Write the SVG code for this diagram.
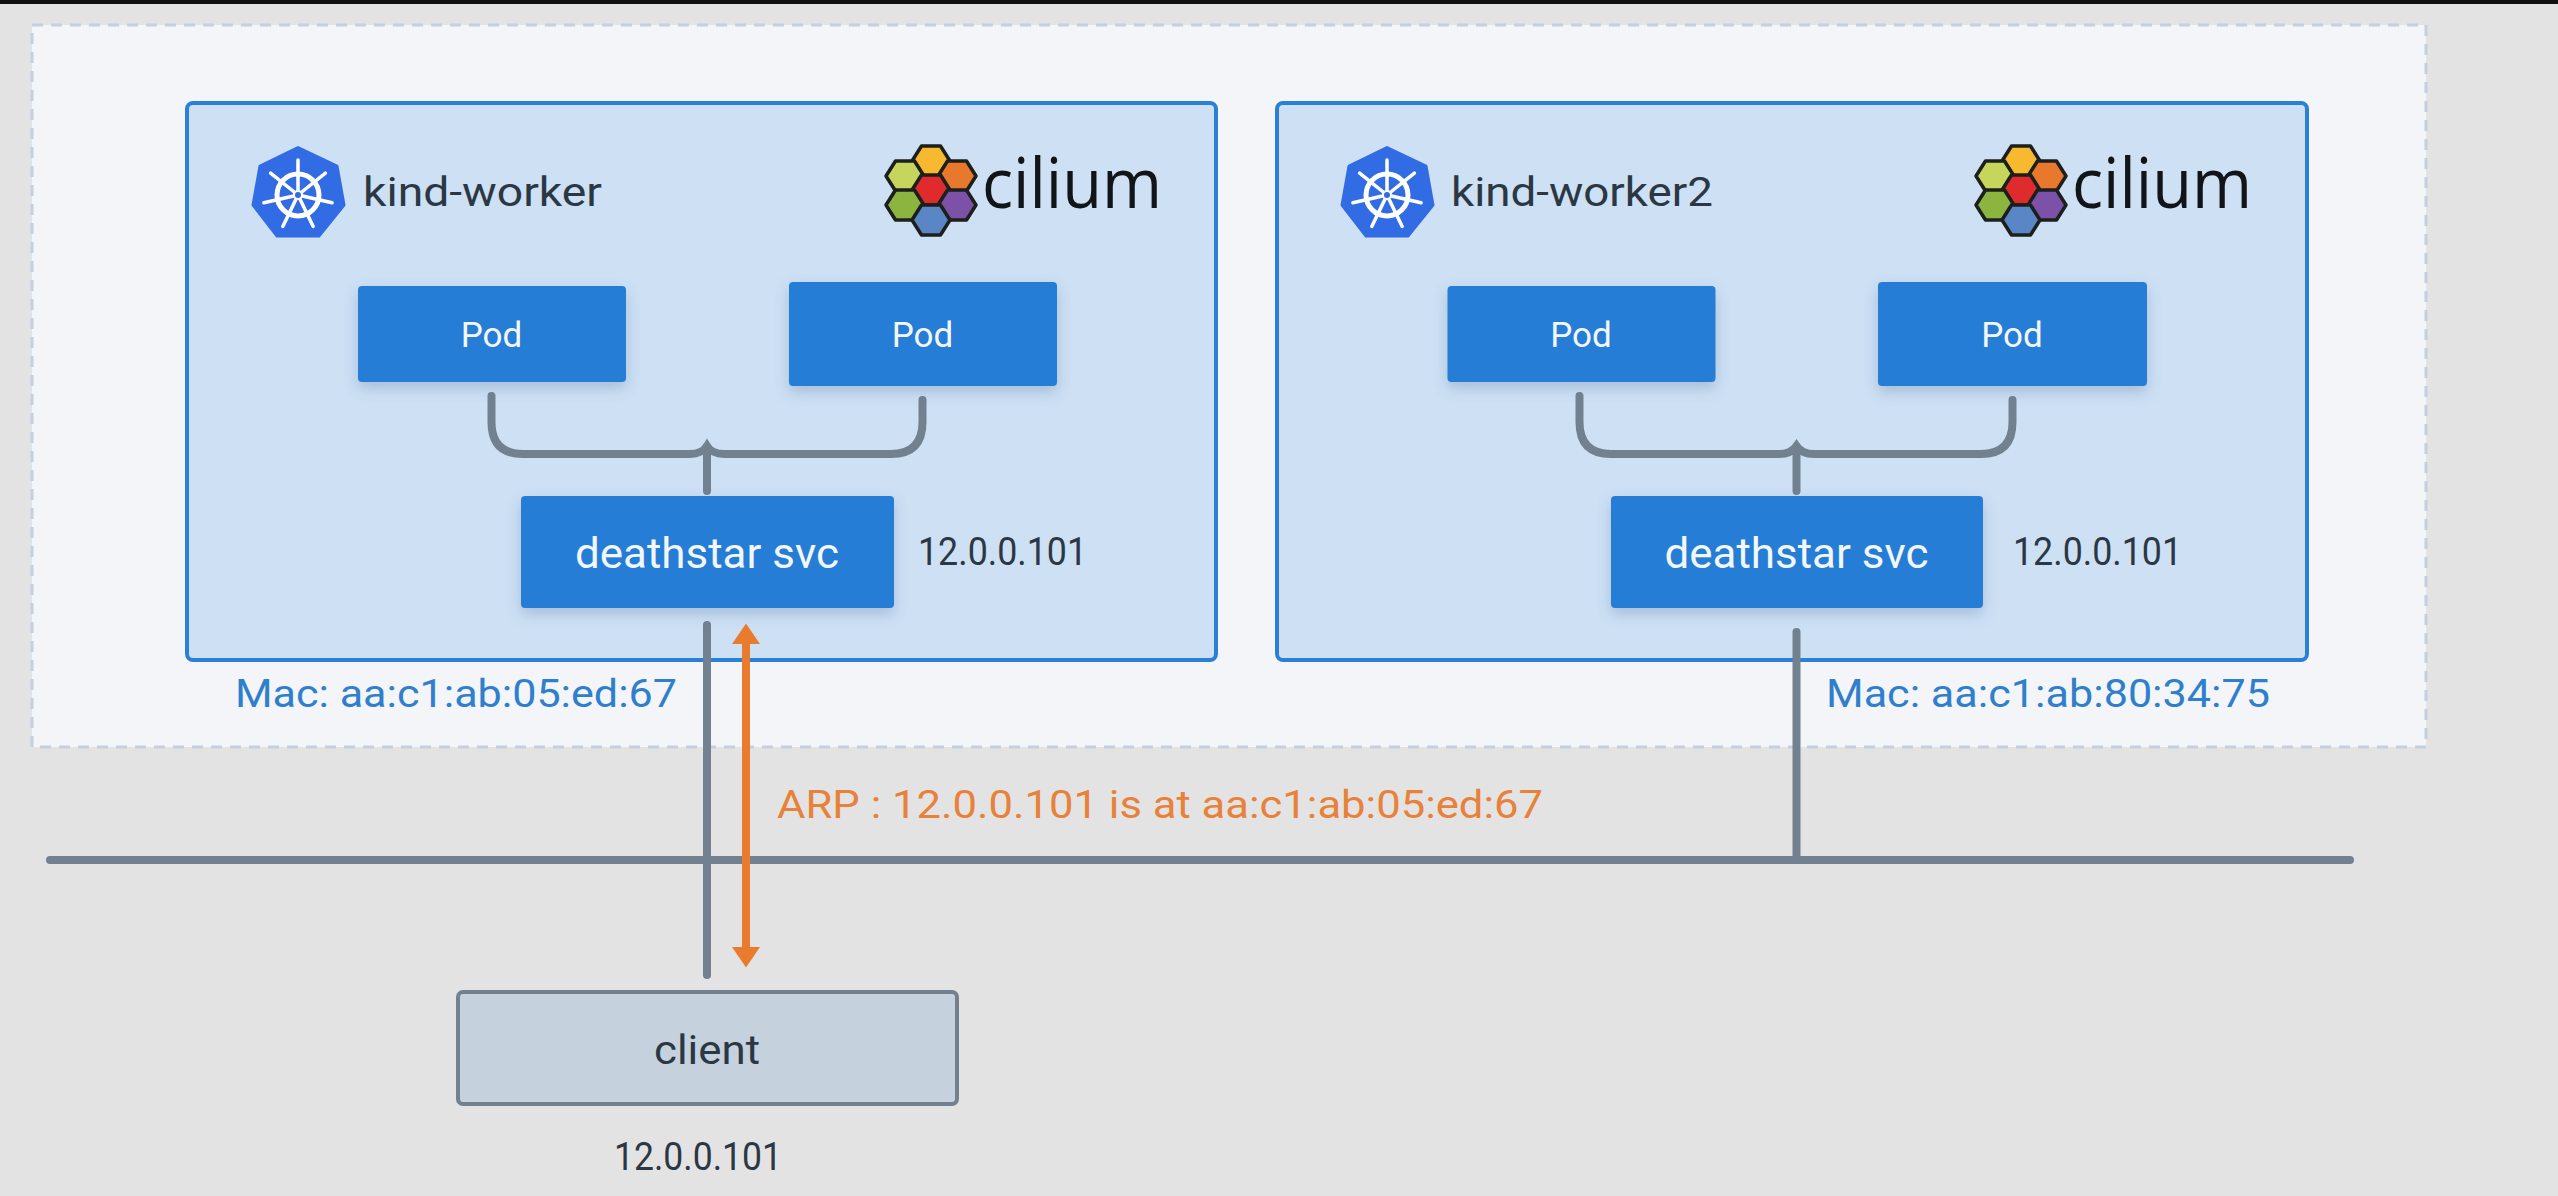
<svg xmlns="http://www.w3.org/2000/svg" width="2558" height="1196" viewBox="0 0 2558 1196">
<style>
text{font-family:"Roboto","Liberation Sans",sans-serif}
.worker{fill:#cde0f4;stroke:#2a80d6;stroke-width:4}
.blue{fill:#277dd6;filter:url(#sh)}
.w{fill:#f2f7fc;text-anchor:middle}
.dark{fill:#2b3844}
.mac{fill:#2f7fcc;font-size:38px}
.line{fill:none;stroke:#728190;stroke-width:8;stroke-linecap:round}
.hex{stroke:#1c1f1c;stroke-width:3.5;stroke-linejoin:round}
.pod{font-size:35px}
.svc{font-size:42px}
.ip{font-size:38px}
.name{font-size:40px}
.brand{font-size:70px;font-family:"Open Sans","Liberation Sans",sans-serif;fill:#111518}
</style>
<defs>
<filter id="sh" x="-20%" y="-30%" width="140%" height="170%"><feDropShadow dx="0" dy="6" stdDeviation="7" flood-color="#4a6f96" flood-opacity="0.3"/></filter>
<polygon id="h" points="-13,-11.5 -6.5,-21 6.5,-21 13,-11.5" style="display:none"/>
<polygon id="hx" points="-19,0 -9.5,-15 9.5,-15 19,0 9.5,15 -9.5,15"/>
<g id="k8s">
<polygon points="298,147.5 337,166 344,205 319,236 277,236 253,205 260,166" fill="#326ce5" stroke="#326ce5" stroke-width="3" stroke-linejoin="round"/>
<g fill="none" stroke="#fff">
<circle cx="298" cy="195" r="21" stroke-width="5"/>
<g stroke-width="3.5" stroke-linecap="round">
<path d="M298 195V160M298 195L325.400 173.200M298 195L332.100 202.800M298 195L313.200 226.500M298 195L282.800 226.500M298 195L263.900 202.800M298 195L270.600 173.200"/>
</g>
</g>
<circle cx="298" cy="195" r="4" fill="#326ce5" stroke="#fff" stroke-width="2"/>
</g>
<g id="cil">
<use href="#hx" class="hex" x="931" y="161" fill="#f7b92f"/>
<use href="#hx" class="hex" x="957" y="176" fill="#e8792c"/>
<use href="#hx" class="hex" x="905" y="176" fill="#c6d65c"/>
<use href="#hx" class="hex" x="931" y="190" fill="#df2b2c"/>
<use href="#hx" class="hex" x="957" y="205" fill="#7c52a8"/>
<use href="#hx" class="hex" x="905" y="205" fill="#8cb53f"/>
<use href="#hx" class="hex" x="931" y="220" fill="#5a86c5"/>
</g>
</defs>
<rect width="2558" height="1196" fill="#e3e3e3"/>
<rect width="2558" height="4" fill="#111"/>
<rect id="cluster" x="32" y="25" width="2394" height="722" fill="#f3f5f8" stroke="#c4d0de" stroke-width="3" stroke-dasharray="11 8"/>

<g id="kind-worker">
<rect class="worker" x="187" y="103" width="1029" height="557" rx="6"/>
<use href="#k8s"/>
<text class="name dark" x="363" y="206" textLength="239" lengthAdjust="spacingAndGlyphs">kind-worker</text>
<use href="#cil"/>
<text class="brand" x="982" y="208" textLength="180" lengthAdjust="spacingAndGlyphs">cilium</text>
</g>
<g id="kind-worker2">
<rect class="worker" x="1277" y="103" width="1030" height="557" rx="6"/>
<use href="#k8s" x="1089"/>
<text class="name dark" x="1451" y="206" textLength="262" lengthAdjust="spacingAndGlyphs">kind-worker2</text>
<use href="#cil" x="1090"/>
<text class="brand" x="2072" y="208" textLength="180" lengthAdjust="spacingAndGlyphs">cilium</text>
</g>

<g id="connectors">
<path class="line" d="M491.500 396V422Q491.500 454 523 454H690Q702 454 707 446Q712 454 724 454H891Q922.500 454 922.500 422V400M707 446V491"/>
<path class="line" d="M1579.500 396V422Q1579.500 454 1611 454H1779Q1791 454 1796.500 446Q1802 454 1814 454H1981Q2012.500 454 2012.500 422V400M1796.500 446V491"/>
<path class="line" d="M50 860H2350"/>
<path class="line" d="M707 625V975"/>
<path class="line" d="M1796.500 632V858"/>
<g id="arp-arrow" fill="#e97b2f">
<path d="M746 640V950" stroke="#e97b2f" stroke-width="8" fill="none"/>
<polygon points="746,623.500 760,644 732,644"/>
<polygon points="746,967.500 760,947 732,947"/>
</g>
</g>

<g id="pod-1"><rect class="blue" x="358" y="286" width="268" height="96" rx="4"/><text class="w pod" x="491.500" y="347">Pod</text></g>
<g id="pod-2"><rect class="blue" x="789" y="282" width="268" height="104" rx="4"/><text class="w pod" x="922.500" y="347">Pod</text></g>
<g id="svc-1"><rect class="blue" x="521" y="496" width="373" height="112" rx="4"/><text class="w svc" x="707" y="568" textLength="264" lengthAdjust="spacingAndGlyphs">deathstar svc</text></g>
<text id="ip-1" class="ip dark" x="918" y="565" textLength="169" lengthAdjust="spacingAndGlyphs">12.0.0.101</text>
<g id="pod-3"><rect class="blue" x="1447.500" y="286" width="268" height="96" rx="4"/><text class="w pod" x="1581" y="347">Pod</text></g>
<g id="pod-4"><rect class="blue" x="1878" y="282" width="269" height="104" rx="4"/><text class="w pod" x="2012" y="347">Pod</text></g>
<g id="svc-2"><rect class="blue" x="1611" y="496" width="372" height="112" rx="4"/><text class="w svc" x="1796.500" y="568" textLength="264" lengthAdjust="spacingAndGlyphs">deathstar svc</text></g>
<text id="ip-2" class="ip dark" x="2013" y="565" textLength="169" lengthAdjust="spacingAndGlyphs">12.0.0.101</text>

<text id="mac-1" class="mac" x="235" y="707" textLength="442" lengthAdjust="spacingAndGlyphs">Mac: aa:c1:ab:05:ed:67</text>
<text id="mac-2" class="mac" x="1826" y="707" textLength="444" lengthAdjust="spacingAndGlyphs">Mac: aa:c1:ab:80:34:75</text>
<text id="arp-label" x="777" y="818" font-size="38" fill="#e8813a" textLength="766" lengthAdjust="spacingAndGlyphs">ARP : 12.0.0.101 is at aa:c1:ab:05:ed:67</text>

<g id="client">
<rect x="458" y="992" width="499" height="112" rx="5" fill="#c5d1dc" stroke="#728190" stroke-width="4"/>
<text class="dark" x="707" y="1064" font-size="40" text-anchor="middle" textLength="106" lengthAdjust="spacingAndGlyphs">client</text>
</g>
<text id="ip-client" class="ip dark" x="614" y="1170" textLength="168" lengthAdjust="spacingAndGlyphs">12.0.0.101</text>
</svg>
